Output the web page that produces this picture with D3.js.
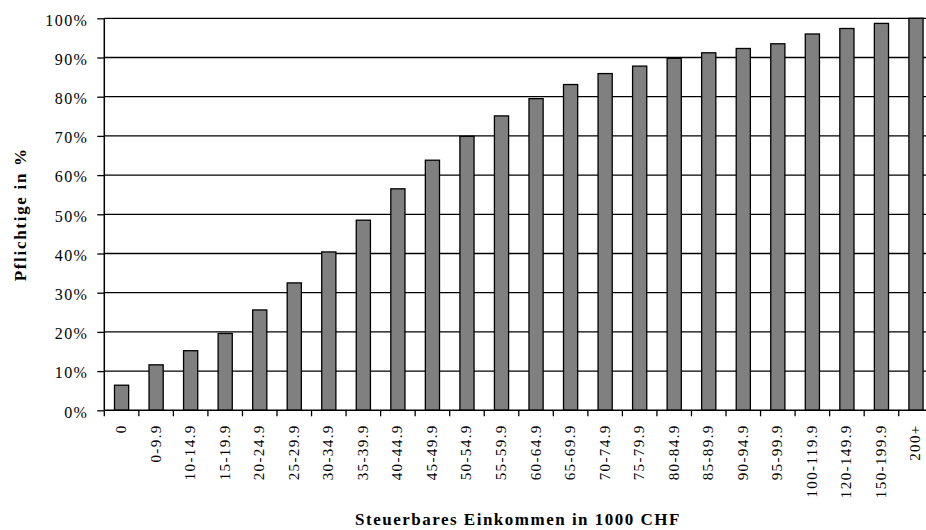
<!DOCTYPE html>
<html><head><meta charset="utf-8">
<script src="https://cdn.jsdelivr.net/npm/d3@7"></script>
<style>html,body{margin:0;padding:0;background:#fff;}svg{display:block;}</style>
</head><body>
<script>
const categories = ["0","0-9.9","10-14.9","15-19.9","20-24.9","25-29.9","30-34.9","35-39.9","40-44.9","45-49.9","50-54.9","55-59.9","60-64.9","65-69.9","70-74.9","75-79.9","80-84.9","85-89.9","90-94.9","95-99.9","100-119.9","120-149.9","150-199.9","200+"];
const values = [6.4,11.6,15.2,19.6,25.6,32.5,40.4,48.5,56.5,63.8,69.9,75.1,79.5,83.1,85.9,87.8,89.8,91.2,92.3,93.5,96.0,97.4,98.7,100];
const yTicks = [0,10,20,30,40,50,60,70,80,90,100];
const yTitle = "Pflichtige in %";
const xTitle = "Steuerbares Einkommen in 1000 CHF";

(function () {
const W = 926, H = 530;
const mLeft = 104.3, mTop = 18.3, mBottom = 410.3;
const step = 34.54;
const mRight = mLeft + step * categories.length;
const serif = "'Liberation Serif','Times New Roman',Times,serif";

const svg = d3.select("body").append("svg").attr("width", W).attr("height", H);
const x = d3.scaleBand().domain(categories).range([mLeft, mRight]).paddingInner(0.59).paddingOuter(0.295);
const y = d3.scaleLinear().domain([0, 100]).range([mBottom, mTop]);

// gridlines
svg.append("g").selectAll("line").data(yTicks.filter(d => d > 0)).join("line")
  .attr("x1", mLeft).attr("x2", mRight)
  .attr("y1", d => y(d)).attr("y2", d => y(d))
  .attr("stroke", "#000").attr("stroke-width", 1.3);

// bars
svg.append("g").selectAll("rect").data(values).join("rect")
  .attr("x", (d, i) => x(categories[i]))
  .attr("width", x.bandwidth())
  .attr("y", d => y(d))
  .attr("height", d => mBottom - y(d))
  .attr("fill", "#808080").attr("stroke", "#000").attr("stroke-width", 1.3);

// y axis
const yAxis = d3.axisLeft(y).tickValues(yTicks).tickFormat(d => d + "%").tickSize(7).tickPadding(9);
const gy = svg.append("g").attr("transform", `translate(${mLeft},0)`).call(yAxis);
gy.select(".domain").attr("stroke", "#000").attr("stroke-width", 1.5).attr("d", `M0,${mTop}V${mBottom}`);
gy.selectAll(".tick line").attr("stroke", "#000").attr("stroke-width", 1.3);
gy.selectAll(".tick text").attr("font-family", serif)
  .attr("font-size", 16).attr("fill", "#000").attr("letter-spacing", "1.4px").attr("dy", "0.42em");

// x axis
const tickX = d3.scaleLinear().domain([0, categories.length]).range([mLeft, mRight]);
const gx = svg.append("g");
gx.append("line").attr("x1", mLeft).attr("x2", mRight).attr("y1", mBottom).attr("y2", mBottom)
  .attr("stroke", "#000").attr("stroke-width", 1.5);
gx.selectAll("line.t").data(d3.range(categories.length + 1)).join("line").attr("class", "t")
  .attr("x1", d => tickX(d)).attr("x2", d => tickX(d))
  .attr("y1", mBottom).attr("y2", mBottom + 6)
  .attr("stroke", "#000").attr("stroke-width", 1.3);
gx.selectAll("text").data(categories).join("text")
  .attr("transform", d => `translate(${x(d) + x.bandwidth() / 2 + 4.5},${mBottom + 14}) rotate(-90)`)
  .attr("text-anchor", "end")
  .attr("font-family", serif)
  .attr("font-size", 15).attr("letter-spacing", "1.4px").attr("fill", "#000")
  .text(d => d);

// titles
svg.append("text")
  .attr("transform", `translate(26,${(mTop + mBottom) / 2}) rotate(-90)`)
  .attr("text-anchor", "middle")
  .attr("font-family", serif)
  .attr("font-weight", "bold").attr("font-size", 17).attr("letter-spacing", "1.7px")
  .text(yTitle);
svg.append("text")
  .attr("x", 518).attr("y", 525)
  .attr("text-anchor", "middle")
  .attr("font-family", serif)
  .attr("font-weight", "bold").attr("font-size", 17).attr("letter-spacing", "1.5px")
  .text(xTitle);
})();
</script>
</body></html>
